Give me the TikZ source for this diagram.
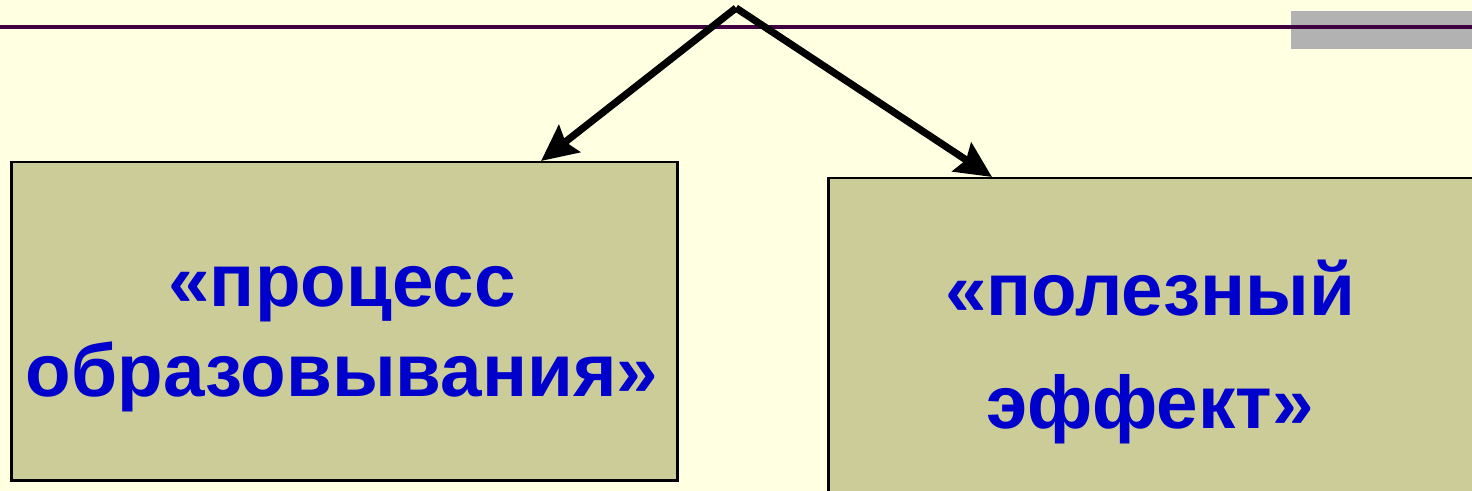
\documentclass[tikz,border=0pt]{standalone}
\usepackage{fontspec}
\setmainfont{Liberation Sans}
\usetikzlibrary{arrows.meta}
\definecolor{slidebg}{HTML}{FFFFE1}
\definecolor{boxfill}{HTML}{CCCC99}
\definecolor{termblue}{HTML}{0000CC}
\definecolor{rulepurple}{HTML}{400040}
\definecolor{bargray}{HTML}{B2B2B2}
\begin{document}
\begin{tikzpicture}[
    x=0.5pt, y=-0.5pt,
    termbox/.style={draw=black, line width=1.25pt, fill=boxfill, anchor=north west, inner sep=0pt},
    termtext/.style={text=termblue, font=\bfseries, align=center},
    pointer/.style={-{Stealth[length=18pt, width=17pt, inset=2.5pt]}, line width=3.6pt} % thick black arrows
]
    \fill [slidebg] (0,0) rectangle (1472,491);
    \useasboundingbox (0,0) rectangle (1472,491);
    \fill [bargray] (1291,11) rectangle (1472,49);
    \draw [rulepurple, line width=2pt] (0,27) -- (1472,27);
    \node [termbox, minimum width=333pt, minimum height=159pt] (proc) at (10,161) {};
    \node [termbox, minimum width=335pt, minimum height=170pt] (eff) at (827,177) {};
    \node [termtext, font=\fontsize{37.3}{45}\selectfont\bfseries] (proctext) at (342,339) {«процесс\\образовывания»};
    \node [termtext, font=\fontsize{37.3}{56.5}\selectfont\bfseries] (efftext) at (1150,352) {«полезный\\эффект»};
    \coordinate (apex) at (736,8);
    \draw [pointer] (apex) -- ([xshift=265.5pt]proc.north west);
    \draw [pointer] (apex) -- ([xshift=82.5pt]eff.north west);
\end{tikzpicture}
\end{document}
